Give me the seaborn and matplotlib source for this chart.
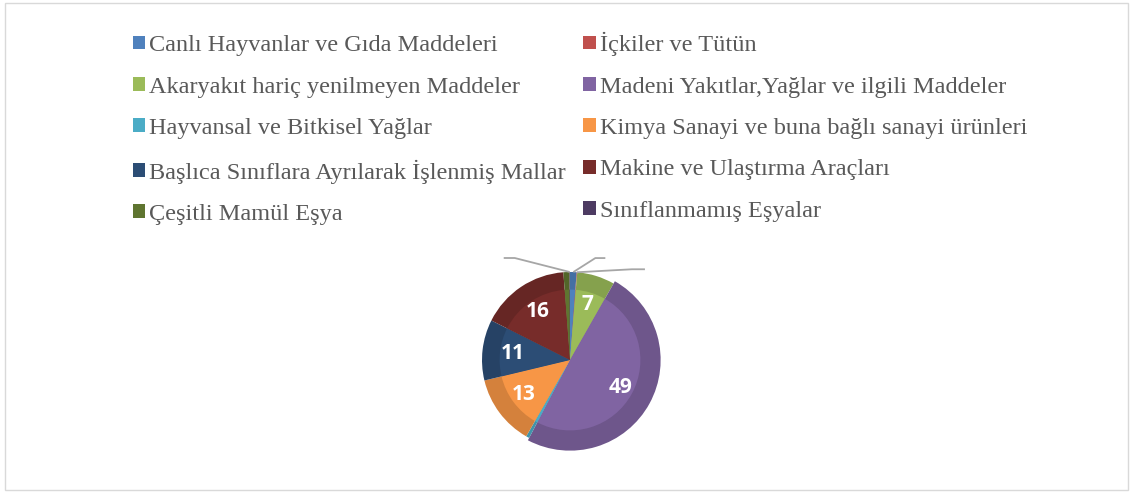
import numpy as np
import matplotlib.pyplot as plt
import matplotlib.colors as mcolors
from matplotlib.patches import Patch, Rectangle, Wedge
import seaborn as sns

# ---------------------------------------------------------------
#                 Data (share of imports, %)
# ---------------------------------------------------------------
categories = [
    "Canlı Hayvanlar ve Gıda Maddeleri",
    "İçkiler ve Tütün",
    "Akaryakıt hariç yenilmeyen Maddeler",
    "Madeni Yakıtlar,Yağlar ve ilgili Maddeler",
    "Hayvansal ve Bitkisel Yağlar",
    "Kimya Sanayi ve buna bağlı sanayi ürünleri",
    "Başlıca Sınıflara Ayrılarak İşlenmiş Mallar",
    "Makine ve Ulaştırma Araçları",
    "Çeşitli Mamül Eşya",
    "Sınıflanmamış Eşyalar",
]
values = [1.2, 0.1, 6.9, 49.2, 0.6, 12.9, 11.1, 16.3, 1.1, 0.1]
colors = ["#4F81BD", "#C0504D", "#9BBB59", "#8064A2", "#4BACC6",
          "#F79646", "#2C4D75", "#772C2A", "#5F7530", "#4D3B62"]
# small slices that get an (empty) leader line
leader_idx = [0, 1, 9]

sns.set_theme(style="white")
plt.rcParams["font.family"] = ["Liberation Serif", "DejaVu Sans"]

W, H = 1133, 492
fig = plt.figure(figsize=(W / 100, H / 100), dpi=100)

# light grey frame around the chart area
fig.patches.append(Rectangle((0.004, 0.004), 0.992, 0.99, transform=fig.transFigure,
                             fill=False, edgecolor="#D9D9D9", linewidth=1.0))

# pie axes: centre at (570, 360) px, 200x200 px box -> 1 data unit = 100 px
cx, cy, box = 570, 360, 200
ax = fig.add_axes([(cx - box / 2) / W, (H - cy - box / 2) / H, box / W, box / H])

radius = 0.88
wedges, _ = ax.pie(values, colors=colors, startangle=90, counterclock=False,
                   radius=radius, wedgeprops=dict(linewidth=0))
ax.set_xlim(-1, 1)
ax.set_ylim(-1, 1)
ax.set_aspect("equal")
ax.axis("off")

# darker rim / lighter inner part to mimic the bevel effect
for i, (w, c) in enumerate(zip(wedges, colors)):
    dark = tuple(np.array(mcolors.to_rgb(c)) * 0.86)
    w.set_facecolor(dark)
    if values[i] > 40:
        w.set_radius(radius * 1.03)
    ax.add_patch(Wedge(w.center, radius * 0.8, w.theta1, w.theta2,
                       facecolor=c, linewidth=0))

# value labels inside large slices
for w, v in zip(wedges, values):
    if v < 5:
        continue
    ang = np.deg2rad((w.theta1 + w.theta2) / 2)
    x = np.cos(ang) * radius * 0.66
    y = np.sin(ang) * radius * 0.66
    ax.text(x, y, f"{round(v)}", ha="center", va="center",
            color="white", fontsize=15, fontweight="bold",
            family=["Open Sans", "DejaVu Sans"])

# leader lines for tiny slices (labels hidden)
leader_dx = {0: (0.22, 0.32), 1: (0.55, 0.68), 9: (-0.55, -0.66)}
leader_dy = {0: 0.14, 1: 0.03, 9: 0.14}
for i in leader_idx:
    w = wedges[i]
    ang = np.deg2rad((w.theta1 + w.theta2) / 2)
    x0 = np.cos(ang) * radius
    y0 = np.sin(ang) * radius
    x1 = x0 + leader_dx[i][0]
    y1 = y0 + leader_dy[i]
    x2 = x0 + leader_dx[i][1]
    ax.plot([x0, x1, x2], [y0, y1, y1], color="#A6A6A6", linewidth=1.3,
            solid_capstyle="butt", clip_on=False)

# legend, filled row by row in two columns
handles = [Patch(facecolor=c, edgecolor="none") for c in colors]
order = [0, 2, 4, 6, 8, 1, 3, 5, 7, 9]
leg = fig.legend([handles[i] for i in order], [categories[i] for i in order],
                 ncol=2, loc="upper left", bbox_to_anchor=(133 / W, 1 - 32 / H),
                 frameon=False, fontsize=17.5, handlelength=0.5, handleheight=0.5,
                 handletextpad=0.17, columnspacing=0.72, labelspacing=0.84,
                 borderaxespad=0, borderpad=0)
for t in leg.get_texts():
    t.set_color("#595959")

fig.savefig("out.png", dpi=100)
